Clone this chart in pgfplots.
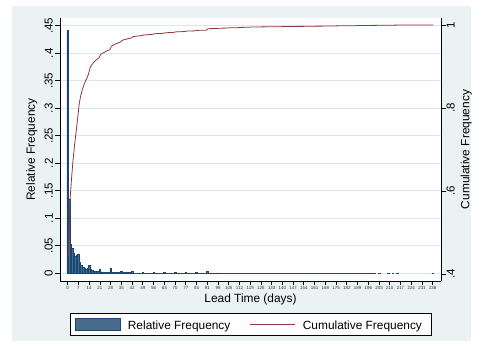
\documentclass[border=0pt]{standalone}
\usepackage{fontspec}
\setmainfont{Liberation Sans}
\usepackage{pgfplots}
\pgfplotsset{compat=1.18}
\usepackage{pgfplotstable}
\definecolor{stnavy}{RGB}{26,71,111}
\definecolor{stnavyfill}{RGB}{72,108,140}
\definecolor{stmaroon}{RGB}{144,53,59}
\definecolor{stbg}{RGB}{234,242,243}
\definecolor{stgrid}{RGB}{222,231,235}

\pgfplotstableread{
day rel cum
0 0.442 0.442
1 0.135 0.577
2 0.053 0.630
3 0.045 0.675
4 0.037 0.712
5 0.030 0.742
6 0.033 0.775
7 0.035 0.810
8 0.020 0.830
9 0.014 0.844
10 0.011 0.855
11 0.009 0.864
12 0.008 0.872
13 0.009 0.881
14 0.015 0.896
15 0.007 0.903
16 0.005 0.908
17 0.004 0.912
18 0.0035 0.9155
19 0.003 0.9185
20 0.003 0.9215
21 0.0075 0.929
22 0.0025 0.9315
23 0.002 0.9335
24 0.002 0.9355
25 0.002 0.9375
26 0.0015 0.939
27 0.0015 0.9405
28 0.0085 0.949
29 0.002 0.951
30 0.002 0.953
31 0.0018 0.9548
32 0.0015 0.9563
33 0.0015 0.9578
34 0.0012 0.959
35 0.004 0.963
36 0.0012 0.9642
37 0.001 0.9652
38 0.001 0.9662
39 0.0009 0.9671
40 0.0009 0.968
41 0.0008 0.9688
42 0.003 0.9718
43 0.0006 0.9724
44 0.0005 0.9729
45 0.0005 0.9734
46 0.0004 0.9738
47 0.0004 0.9742
48 0.0004 0.9746
49 0.0012 0.9758
50 0.0003 0.9761
51 0.0003 0.9764
52 0.0003 0.9767
53 0.0003 0.9770
54 0.0003 0.9773
55 0.0003 0.9776
56 0.0012 0.9788
57 0.0002 0.9790
58 0.0002 0.9792
59 0.0002 0.9794
60 0.0002 0.9796
61 0.0002 0.9798
62 0.0002 0.9800
63 0.0012 0.9812
64 0.0002 0.9814
65 0.0002 0.9816
66 0.0002 0.9818
67 0.0002 0.9820
68 0.0002 0.9822
69 0.0002 0.9824
70 0.0010 0.9834
71 0.00015 0.98355
72 0.00015 0.9837
73 0.00015 0.98385
74 0.00015 0.9840
75 0.00015 0.98415
76 0.00015 0.9843
77 0.0010 0.9853
78 0.00012 0.98542
79 0.00012 0.98554
80 0.00012 0.98566
81 0.00012 0.98578
82 0.00012 0.9859
83 0.00012 0.98602
84 0.0010 0.98702
85 0.0001 0.98712
86 0.0001 0.98722
87 0.0001 0.98732
88 0.0001 0.98742
89 0.0001 0.98752
90 0.0001 0.98762
91 0.0035 0.99112
92 0.00008 0.9912
93 0.00008 0.99128
94 0.00008 0.99136
95 0.00008 0.99144
96 0.00008 0.99152
97 0.00008 0.9916
98 0.0006 0.9922
99 0.00008 0.99228
100 0.00008 0.99236
101 0.00008 0.99244
102 0.00008 0.99252
103 0.00008 0.9926
104 0.00008 0.99268
105 0.0005 0.99318
106 0.00008 0.99326
107 0.00008 0.99334
108 0.00008 0.99342
109 0.00008 0.9935
110 0.00008 0.99358
111 0.00008 0.99366
112 0.0005 0.99416
113 0.00008 0.99424
114 0.00008 0.99432
115 0.00008 0.9944
116 0.00008 0.99448
117 0.00008 0.99456
118 0.00008 0.99464
119 0.0005 0.99514
120 0.000025 0.995165
121 0.000025 0.99519
122 0.000025 0.995215
123 0.000025 0.99524
124 0.000025 0.995265
125 0.000025 0.99529
126 0.0002 0.99549
127 0.000025 0.995515
128 0.000025 0.99554
129 0.000025 0.995565
130 0.000025 0.99559
131 0.000025 0.995615
132 0.000025 0.99564
133 0.0002 0.99584
134 0.000025 0.995865
135 0.000025 0.99589
136 0.000025 0.995915
137 0.000025 0.99594
138 0.000025 0.995965
139 0.000025 0.99599
140 0.0002 0.99619
141 0.000025 0.996215
142 0.000025 0.99624
143 0.000025 0.996265
144 0.000025 0.99629
145 0.000025 0.996315
146 0.000025 0.99634
147 0.0002 0.99654
148 0.000025 0.996565
149 0.000025 0.99659
150 0.000025 0.996615
151 0.000025 0.99664
152 0.000025 0.996665
153 0.000025 0.99669
154 0.0002 0.99689
155 0.000025 0.996915
156 0.000025 0.99694
157 0.000025 0.996965
158 0.000025 0.99699
159 0.000025 0.997015
160 0.000025 0.99704
161 0.0002 0.99724
162 0.000025 0.997265
163 0.000025 0.99729
164 0.000025 0.997315
165 0.000025 0.99734
166 0.000025 0.997365
167 0.000025 0.99739
168 0.0002 0.99759
169 0.000025 0.997615
170 0.000025 0.99764
171 0.000025 0.997665
172 0.000025 0.99769
173 0.000025 0.997715
174 0.000025 0.99774
175 0.0002 0.99794
176 0.000025 0.997965
177 0.000025 0.99799
178 0.000025 0.998015
179 0.000025 0.99804
180 0.000025 0.998065
181 0.000025 0.99809
182 0.0002 0.99829
183 0.000025 0.998315
184 0.000025 0.99834
185 0.000025 0.998365
186 0.000025 0.99839
187 0.000025 0.998415
188 0.000025 0.99844
189 0.0002 0.99864
190 0.000025 0.998665
191 0.000025 0.99869
192 0.000025 0.998715
193 0.000025 0.99874
194 0.000025 0.998765
195 0.000025 0.99879
196 0.0002 0.99899
197 0.000025 0.999015
198 0.000025 0.99904
199 0.000025 0.999065
200 0.000025 0.99909
203 0.00018 0.99927
209 0.00018 0.99945
212 0.00018 0.99963
215 0.00018 0.99981
238 0.00019 1.0
}\leadtab

\begin{document}
\begin{tikzpicture}[x=1pt,y=1pt]
\path[use as bounding box] (0,0) rectangle (483,350);
\fill[white] (0,0) rectangle (483,350);
\fill[stbg] (12,9) rectangle (471,344);
\fill[white] (60,69) rectangle (441,332);
\begin{axis}[
  at={(60pt,69pt)}, anchor=south west, scale only axis,
  width=381pt, height=263pt,
  xmin=-5.02, xmax=243.4, ymin=-0.014, ymax=0.464,
  axis y line=left, axis x line=bottom,
  axis line style={-, black, line width=0.9pt},
  tick align=outside,
  major tick length=4.5pt,
  tick style={black, line width=0.8pt},
  xtick={0,7,...,238},
  xticklabel style={font=\fontsize{4.4}{5}\selectfont, inner sep=1pt, text=black!80},
  /pgf/number format/assume math mode=true,
  ytick={0,0.05,0.1,0.15,0.2,0.25,0.3,0.35,0.4,0.45},
  yticklabels={0,.05,.1,.15,.2,.25,.3,.35,.4,.45},
  yticklabel style={rotate=90, anchor=south, inner sep=2.5pt, font=\fontsize{11.5}{13}\selectfont},
  ymajorgrids, grid style={stgrid, line width=0.7pt},
  clip=true,
]
\addplot[ybar, bar width=1, bar shift=0pt, fill=stnavyfill, draw=stnavy, line width=0.6pt]
  table[x=day, y=rel]{\leadtab};
\end{axis}
\begin{axis}[
  at={(60pt,69pt)}, anchor=south west, scale only axis,
  width=381pt, height=263pt,
  xmin=-5.02, xmax=243.4, ymin=0.3831, ymax=1.0169,
  axis y line=right, axis x line=none,
  axis line style={-, black, line width=0.9pt},
  tick align=outside,
  major tick length=4.5pt,
  tick style={black, line width=0.8pt},
  xtick=\empty,
  ytick={0.4,0.6,0.8,1},
  yticklabels={.4,.6,.8,1},
  yticklabel style={rotate=90, anchor=north, inner sep=1pt, font=\fontsize{11.5}{13}\selectfont},
]
\addplot[stmaroon, line width=0.8pt, mark=none]
  table[x expr=\thisrow{day}+0.5, y=cum]{\leadtab};
\end{axis}
% axis titles
\node[rotate=90, font=\fontsize{11.9}{14}\selectfont] at (31.7,200.5) {Relative Frequency};
\node[rotate=90, font=\fontsize{11.9}{14}\selectfont] at (466.3,200.5) {Cumulative Frequency};
\node[anchor=base, font=\fontsize{11.9}{14}\selectfont, inner sep=0pt] at (250.5,47.3) {Lead Time (days)};
% legend
\draw[black, line width=0.8pt, fill=white] (70,15) rectangle (431.7,36.7);
\draw[stnavy, line width=0.7pt, fill=stnavyfill] (75,19.3) rectangle (120,31.7);
\node[anchor=base west, inner sep=0pt, font=\fontsize{11.9}{14}\selectfont] at (127.7,20.7) {Relative Frequency};
\draw[stmaroon, line width=0.8pt] (250,25.7) -- (295,25.7);
\node[anchor=base west, inner sep=0pt, font=\fontsize{11.9}{14}\selectfont] at (302.7,20.7) {Cumulative Frequency};
\end{tikzpicture}
\end{document}
